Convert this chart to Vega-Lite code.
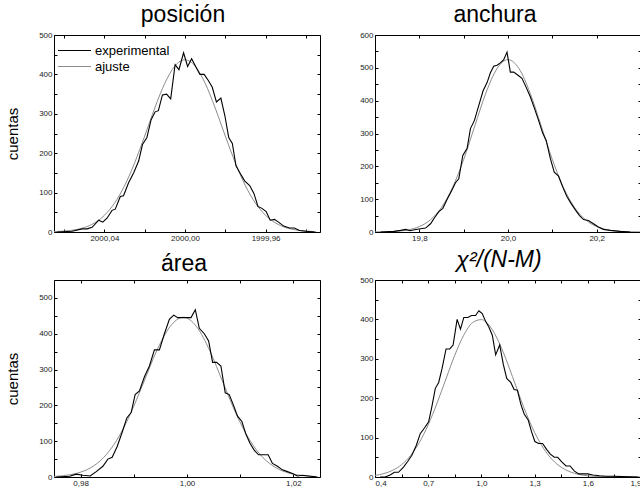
{
  "$schema": "https://vega.github.io/schema/vega-lite/v6.json",
  "background": "white",
  "padding": {"left": 5, "top": 4, "right": 0, "bottom": 0},
  "config": {
    "view": {"stroke": null},
    "font": "Liberation Sans",
    "axis": {"labelFont": "Liberation Sans", "labelFontSize": 8, "labelColor": "#222222", "tickColor": "black", "domainColor": "black", "tickSize": -3, "grid": false, "labelPadding": 5, "titleFont": "Liberation Sans", "titleFontSize": 15, "titleFontWeight": "normal", "titleColor": "black"},
    "title": {"font": "Liberation Sans", "fontSize": 23, "fontWeight": "normal", "color": "black", "offset": 4},
    "legend": {"labelFont": "Liberation Sans"}
  },
  "datasets": {
    "p1exp": [
      {"x": 2000.0634, "y": 0}, {"x": 2000.0560, "y": 2}, {"x": 2000.0510, "y": 8}, {"x": 2000.0486, "y": 8}, {"x": 2000.0461, "y": 12},
      {"x": 2000.0428, "y": 30}, {"x": 2000.0408, "y": 25}, {"x": 2000.0387, "y": 35}, {"x": 2000.0362, "y": 55}, {"x": 2000.0346, "y": 58},
      {"x": 2000.0321, "y": 90}, {"x": 2000.0305, "y": 92}, {"x": 2000.0280, "y": 125}, {"x": 2000.0255, "y": 150}, {"x": 2000.0230, "y": 180},
      {"x": 2000.0211, "y": 222}, {"x": 2000.0189, "y": 240}, {"x": 2000.0168, "y": 285}, {"x": 2000.0148, "y": 305}, {"x": 2000.0132, "y": 308},
      {"x": 2000.0112, "y": 348}, {"x": 2000.0091, "y": 350}, {"x": 2000.0071, "y": 338}, {"x": 2000.0049, "y": 425}, {"x": 2000.0030, "y": 412},
      {"x": 2000.0007, "y": 455}, {"x": 1999.9987, "y": 420}, {"x": 1999.9967, "y": 440}, {"x": 1999.9947, "y": 420}, {"x": 1999.9926, "y": 400},
      {"x": 1999.9905, "y": 400}, {"x": 1999.9885, "y": 385}, {"x": 1999.9865, "y": 368}, {"x": 1999.9844, "y": 330}, {"x": 1999.9822, "y": 340},
      {"x": 1999.9802, "y": 295}, {"x": 1999.9783, "y": 240}, {"x": 1999.9765, "y": 225}, {"x": 1999.9747, "y": 168}, {"x": 1999.9727, "y": 150},
      {"x": 1999.9704, "y": 130}, {"x": 1999.9679, "y": 118}, {"x": 1999.9658, "y": 98}, {"x": 1999.9638, "y": 65}, {"x": 1999.9618, "y": 60},
      {"x": 1999.9597, "y": 52}, {"x": 1999.9577, "y": 30}, {"x": 1999.9556, "y": 32}, {"x": 1999.9536, "y": 25}, {"x": 1999.9510, "y": 15},
      {"x": 1999.9482, "y": 10}, {"x": 1999.9457, "y": 10}, {"x": 1999.9432, "y": 4}, {"x": 1999.9399, "y": 2}, {"x": 1999.9358, "y": 0}
    ],
    "p1fit": [
      {"x": 1999.935, "y": 0.9}, {"x": 1999.940, "y": 2.3}, {"x": 1999.945, "y": 5.3}, {"x": 1999.950, "y": 11.3}, {"x": 1999.955, "y": 22.7},
      {"x": 1999.960, "y": 42.2}, {"x": 1999.965, "y": 73.0}, {"x": 1999.970, "y": 117.3}, {"x": 1999.975, "y": 175.4}, {"x": 1999.980, "y": 243.6},
      {"x": 1999.985, "y": 314.6}, {"x": 1999.990, "y": 377.6}, {"x": 1999.995, "y": 421.3}, {"x": 2000.000, "y": 437},
      {"x": 2000.005, "y": 421.3}, {"x": 2000.010, "y": 377.6}, {"x": 2000.015, "y": 314.6}, {"x": 2000.020, "y": 243.6}, {"x": 2000.025, "y": 175.4},
      {"x": 2000.030, "y": 117.3}, {"x": 2000.035, "y": 73.0}, {"x": 2000.040, "y": 42.2}, {"x": 2000.045, "y": 22.7}, {"x": 2000.050, "y": 11.3},
      {"x": 2000.055, "y": 5.3}, {"x": 2000.060, "y": 2.3}, {"x": 2000.065, "y": 0.9}
    ],
    "p2exp": [
      {"x": 19.7128, "y": 0}, {"x": 19.7428, "y": 2}, {"x": 19.7578, "y": 5}, {"x": 19.769, "y": 8}, {"x": 19.7788, "y": 4},
      {"x": 19.7893, "y": 7}, {"x": 19.8028, "y": 10}, {"x": 19.814, "y": 12}, {"x": 19.8253, "y": 25}, {"x": 19.835, "y": 45},
      {"x": 19.844, "y": 62}, {"x": 19.853, "y": 72}, {"x": 19.8628, "y": 100}, {"x": 19.8725, "y": 125}, {"x": 19.8815, "y": 150},
      {"x": 19.889, "y": 162}, {"x": 19.898, "y": 233}, {"x": 19.9078, "y": 255}, {"x": 19.9153, "y": 315}, {"x": 19.9243, "y": 340},
      {"x": 19.934, "y": 385}, {"x": 19.9438, "y": 430}, {"x": 19.9528, "y": 455}, {"x": 19.9603, "y": 485}, {"x": 19.9678, "y": 505},
      {"x": 19.9753, "y": 508}, {"x": 19.9828, "y": 515}, {"x": 19.9903, "y": 525}, {"x": 19.9978, "y": 548}, {"x": 20.0053, "y": 487},
      {"x": 20.0128, "y": 487}, {"x": 20.0218, "y": 478}, {"x": 20.0315, "y": 468}, {"x": 20.0405, "y": 442}, {"x": 20.0503, "y": 412},
      {"x": 20.0593, "y": 378}, {"x": 20.069, "y": 340}, {"x": 20.078, "y": 302}, {"x": 20.0863, "y": 278}, {"x": 20.0953, "y": 225},
      {"x": 20.1043, "y": 182}, {"x": 20.114, "y": 170}, {"x": 20.1238, "y": 136}, {"x": 20.1328, "y": 108}, {"x": 20.1418, "y": 88},
      {"x": 20.1515, "y": 68}, {"x": 20.1613, "y": 50}, {"x": 20.1703, "y": 38}, {"x": 20.1815, "y": 35}, {"x": 20.1928, "y": 25},
      {"x": 20.204, "y": 15}, {"x": 20.2153, "y": 8}, {"x": 20.2303, "y": 5}, {"x": 20.2528, "y": 2}, {"x": 20.2753, "y": 0}
    ],
    "p2fit": [
      {"x": 19.700, "y": 0.2}, {"x": 19.725, "y": 0.8}, {"x": 19.750, "y": 2.3}, {"x": 19.775, "y": 6.6}, {"x": 19.800, "y": 16.5},
      {"x": 19.825, "y": 37.1}, {"x": 19.850, "y": 74.9}, {"x": 19.875, "y": 135.8}, {"x": 19.900, "y": 220.9}, {"x": 19.925, "y": 322.6},
      {"x": 19.950, "y": 422.8}, {"x": 19.975, "y": 497.3}, {"x": 20.000, "y": 525},
      {"x": 20.025, "y": 497.3}, {"x": 20.050, "y": 422.8}, {"x": 20.075, "y": 322.6}, {"x": 20.100, "y": 220.9}, {"x": 20.125, "y": 135.8},
      {"x": 20.150, "y": 74.9}, {"x": 20.175, "y": 37.1}, {"x": 20.200, "y": 16.5}, {"x": 20.225, "y": 6.6}, {"x": 20.250, "y": 2.3},
      {"x": 20.275, "y": 0.8}, {"x": 20.300, "y": 0.2}
    ],
    "p3exp": [
      {"x": 0.975438, "y": 0}, {"x": 0.977938, "y": 2}, {"x": 0.979188, "y": 8}, {"x": 0.980438, "y": 5}, {"x": 0.981813, "y": 3},
      {"x": 0.982938, "y": 15}, {"x": 0.984188, "y": 30}, {"x": 0.985125, "y": 50}, {"x": 0.985938, "y": 55}, {"x": 0.986875, "y": 85},
      {"x": 0.987813, "y": 125}, {"x": 0.988688, "y": 165}, {"x": 0.9895, "y": 180}, {"x": 0.99025, "y": 230}, {"x": 0.991063, "y": 240},
      {"x": 0.992, "y": 280}, {"x": 0.992938, "y": 310}, {"x": 0.993875, "y": 355}, {"x": 0.994813, "y": 355}, {"x": 0.99575, "y": 400},
      {"x": 0.996688, "y": 440}, {"x": 0.9975, "y": 452}, {"x": 0.99825, "y": 445}, {"x": 0.999188, "y": 445}, {"x": 1.000125, "y": 445},
      {"x": 1.00075, "y": 445}, {"x": 1.001563, "y": 467}, {"x": 1.002313, "y": 415}, {"x": 1.00325, "y": 400}, {"x": 1.004063, "y": 380},
      {"x": 1.004813, "y": 320}, {"x": 1.005563, "y": 320}, {"x": 1.006375, "y": 310}, {"x": 1.007188, "y": 235}, {"x": 1.007938, "y": 230},
      {"x": 1.00875, "y": 200}, {"x": 1.0095, "y": 170}, {"x": 1.010313, "y": 155}, {"x": 1.011063, "y": 120}, {"x": 1.011813, "y": 95},
      {"x": 1.012625, "y": 75}, {"x": 1.013438, "y": 62}, {"x": 1.014375, "y": 62}, {"x": 1.01525, "y": 62}, {"x": 1.016063, "y": 38},
      {"x": 1.017, "y": 30}, {"x": 1.017938, "y": 20}, {"x": 1.018875, "y": 15}, {"x": 1.019813, "y": 10}, {"x": 1.02075, "y": 3},
      {"x": 1.021688, "y": 5}, {"x": 1.02325, "y": 2}, {"x": 1.0245, "y": 0}
    ],
    "p3fit": [
      {"x": 0.9743, "y": 1.3}, {"x": 0.9768, "y": 3.8}, {"x": 0.9793, "y": 10.4}, {"x": 0.9818, "y": 25.1}, {"x": 0.9843, "y": 53.9},
      {"x": 0.9868, "y": 102.7}, {"x": 0.9893, "y": 174.1}, {"x": 0.9918, "y": 262.5}, {"x": 0.9943, "y": 352.0}, {"x": 0.9968, "y": 419.7},
      {"x": 0.9993, "y": 446},
      {"x": 1.0018, "y": 419.7}, {"x": 1.0043, "y": 352.0}, {"x": 1.0068, "y": 262.5}, {"x": 1.0093, "y": 174.1}, {"x": 1.0118, "y": 102.7},
      {"x": 1.0143, "y": 53.9}, {"x": 1.0168, "y": 25.1}, {"x": 1.0193, "y": 10.4}, {"x": 1.0218, "y": 3.8}, {"x": 1.0243, "y": 1.3}
    ],
    "p4exp": [
      {"x": 0.4284, "y": 0}, {"x": 0.4567, "y": 0}, {"x": 0.4851, "y": 5}, {"x": 0.5096, "y": 12}, {"x": 0.5323, "y": 12},
      {"x": 0.5607, "y": 25}, {"x": 0.5852, "y": 40}, {"x": 0.6079, "y": 55}, {"x": 0.6325, "y": 80}, {"x": 0.6552, "y": 110},
      {"x": 0.6797, "y": 125}, {"x": 0.7024, "y": 140}, {"x": 0.7213, "y": 180}, {"x": 0.7402, "y": 225}, {"x": 0.7591, "y": 240},
      {"x": 0.778, "y": 275}, {"x": 0.8007, "y": 325}, {"x": 0.8215, "y": 325}, {"x": 0.8404, "y": 335}, {"x": 0.8631, "y": 400},
      {"x": 0.882, "y": 375}, {"x": 0.9009, "y": 405}, {"x": 0.9235, "y": 405}, {"x": 0.9443, "y": 410}, {"x": 0.967, "y": 410},
      {"x": 0.9859, "y": 422}, {"x": 1.0048, "y": 415}, {"x": 1.0237, "y": 395}, {"x": 1.0426, "y": 380}, {"x": 1.0615, "y": 360},
      {"x": 1.0804, "y": 310}, {"x": 1.1031, "y": 335}, {"x": 1.1239, "y": 285}, {"x": 1.1428, "y": 250}, {"x": 1.1655, "y": 240},
      {"x": 1.1844, "y": 222}, {"x": 1.2033, "y": 220}, {"x": 1.2222, "y": 185}, {"x": 1.2411, "y": 160}, {"x": 1.2637, "y": 145},
      {"x": 1.2826, "y": 115}, {"x": 1.3015, "y": 90}, {"x": 1.3223, "y": 85}, {"x": 1.345, "y": 85}, {"x": 1.3677, "y": 70},
      {"x": 1.3885, "y": 58}, {"x": 1.4112, "y": 50}, {"x": 1.4301, "y": 50}, {"x": 1.4546, "y": 38}, {"x": 1.4773, "y": 28},
      {"x": 1.5, "y": 28}, {"x": 1.5246, "y": 15}, {"x": 1.5491, "y": 8}, {"x": 1.5718, "y": 8}, {"x": 1.6002, "y": 8},
      {"x": 1.6285, "y": 5}, {"x": 1.6663, "y": 3}, {"x": 1.7041, "y": 2}, {"x": 1.7419, "y": 2}, {"x": 1.7986, "y": 1},
      {"x": 1.8837, "y": 0}
    ],
    "p4fit": [
      {"x": 0.40, "y": 4.1}, {"x": 0.45, "y": 8.7}, {"x": 0.50, "y": 17.0}, {"x": 0.55, "y": 31.4}, {"x": 0.60, "y": 54.1},
      {"x": 0.65, "y": 87.5}, {"x": 0.70, "y": 132.4}, {"x": 0.75, "y": 187.6}, {"x": 0.80, "y": 248.8}, {"x": 0.85, "y": 309.1},
      {"x": 0.90, "y": 359.6}, {"x": 0.95, "y": 391.7}, {"x": 1.00, "y": 399.5}, {"x": 1.05, "y": 381.5}, {"x": 1.10, "y": 341.2},
      {"x": 1.15, "y": 285.7}, {"x": 1.20, "y": 224.0}, {"x": 1.25, "y": 164.4}, {"x": 1.30, "y": 113.1}, {"x": 1.35, "y": 72.8},
      {"x": 1.40, "y": 43.9}, {"x": 1.45, "y": 24.8}, {"x": 1.50, "y": 13.1}, {"x": 1.55, "y": 6.5}, {"x": 1.60, "y": 3.0},
      {"x": 1.65, "y": 1.3}, {"x": 1.70, "y": 0.5}, {"x": 1.80, "y": 0.05}, {"x": 1.90, "y": 0}
    ]
  },
  "columns": 2,
  "spacing": {"row": 48, "column": 55},
  "bounds": "flush",
  "resolve": {"scale": {"color": "independent"}},
  "concat": [
    {
      "width": 266, "height": 197,
      "title": {"text": "posición", "dx": -4},
      "resolve": {"axis": {"x": "independent", "y": "independent"}},
      "layer": [
        {
          "data": {"name": "p1fit"},
          "mark": {"type": "line", "strokeWidth": 1, "interpolate": "monotone", "clip": true},
          "encoding": {
            "x": {"field": "x", "type": "quantitative", "scale": {"domain": [1999.933, 2000.065], "reverse": true, "nice": false, "zero": false},
                  "axis": {"orient": "bottom", "title": null, "values": [1999.94, 1999.96, 1999.98, 2000.0, 2000.02, 2000.04, 2000.06],
                           "labelExpr": "round(datum.value*100) % 4 == 0 ? replace(format(datum.value, '.2f'), '.', ',') : ''"}},
            "y": {"field": "y", "type": "quantitative", "scale": {"domain": [0, 500], "nice": false},
                  "axis": {"orient": "left", "title": "cuentas", "titlePadding": 18, "values": [0, 50, 100, 150, 200, 250, 300, 350, 400, 450, 500],
                           "labelExpr": "datum.value % 100 == 0 ? format(datum.value, 'd') : ''"}},
            "color": {"datum": "ajuste", "type": "nominal",
                      "scale": {"domain": ["experimental", "ajuste"], "range": ["#000000", "#8c8c8c"]},
                      "legend": {"orient": "none", "legendX": 14, "legendY": 9, "title": null, "symbolType": "M-3,0H3", "symbolSize": 121,
                                 "symbolStrokeWidth": 1.2, "labelFontSize": 13, "labelColor": "black", "labelOffset": 14, "rowPadding": 2, "padding": 0}}
          }
        },
        {
          "data": {"name": "p1exp"},
          "mark": {"type": "line", "strokeWidth": 1.1, "clip": true},
          "encoding": {
            "x": {"field": "x", "type": "quantitative",
                  "axis": {"orient": "top", "title": null, "labels": false, "values": [1999.94, 1999.96, 1999.98, 2000.0, 2000.02, 2000.04, 2000.06]}},
            "y": {"field": "y", "type": "quantitative",
                  "axis": {"orient": "right", "title": null, "labels": false, "values": [0, 50, 100, 150, 200, 250, 300, 350, 400, 450, 500]}},
            "color": {"datum": "experimental", "type": "nominal"}
          }
        }
      ]
    },
    {
      "width": 266, "height": 197,
      "title": {"text": "anchura", "dx": -13},
      "resolve": {"axis": {"x": "independent", "y": "independent"}},
      "layer": [
        {
          "data": {"name": "p2fit"},
          "mark": {"type": "line", "strokeWidth": 1, "color": "#8c8c8c", "interpolate": "monotone", "clip": true},
          "encoding": {
            "x": {"field": "x", "type": "quantitative", "scale": {"domain": [19.7, 20.3], "nice": false, "zero": false},
                  "axis": {"orient": "bottom", "title": null, "values": [19.7, 19.8, 19.9, 20.0, 20.1, 20.2, 20.3],
                           "labelExpr": "round(datum.value*10) % 2 == 0 && datum.value > 19.75 && datum.value < 20.25 ? replace(format(datum.value, '.1f'), '.', ',') : ''"}},
            "y": {"field": "y", "type": "quantitative", "scale": {"domain": [0, 600], "nice": false},
                  "axis": {"orient": "left", "title": null, "values": [0, 50, 100, 150, 200, 250, 300, 350, 400, 450, 500, 550, 600],
                           "labelExpr": "datum.value % 100 == 0 ? format(datum.value, 'd') : ''"}}
          }
        },
        {
          "data": {"name": "p2exp"},
          "mark": {"type": "line", "strokeWidth": 1.1, "color": "#000000", "clip": true},
          "encoding": {
            "x": {"field": "x", "type": "quantitative",
                  "axis": {"orient": "top", "title": null, "labels": false, "values": [19.7, 19.8, 19.9, 20.0, 20.1, 20.2, 20.3]}},
            "y": {"field": "y", "type": "quantitative",
                  "axis": {"orient": "right", "title": null, "labels": false, "values": [0, 50, 100, 150, 200, 250, 300, 350, 400, 450, 500, 550, 600]}}
          }
        }
      ]
    },
    {
      "width": 266, "height": 197,
      "title": {"text": "área", "dx": -3},
      "resolve": {"axis": {"x": "independent", "y": "independent"}},
      "layer": [
        {
          "data": {"name": "p3fit"},
          "mark": {"type": "line", "strokeWidth": 1, "color": "#8c8c8c", "interpolate": "monotone", "clip": true},
          "encoding": {
            "x": {"field": "x", "type": "quantitative", "scale": {"domain": [0.975, 1.025], "nice": false, "zero": false},
                  "axis": {"orient": "bottom", "title": null, "values": [0.98, 0.99, 1.0, 1.01, 1.02],
                           "labelExpr": "round(datum.value*100) % 2 == 0 ? replace(format(datum.value, '.2f'), '.', ',') : ''"}},
            "y": {"field": "y", "type": "quantitative", "scale": {"domain": [0, 550], "nice": false},
                  "axis": {"orient": "left", "title": "cuentas", "titlePadding": 18, "values": [0, 50, 100, 150, 200, 250, 300, 350, 400, 450, 500, 550],
                           "labelExpr": "datum.value % 100 == 0 ? format(datum.value, 'd') : ''"}}
          }
        },
        {
          "data": {"name": "p3exp"},
          "mark": {"type": "line", "strokeWidth": 1.1, "color": "#000000", "clip": true},
          "encoding": {
            "x": {"field": "x", "type": "quantitative",
                  "axis": {"orient": "top", "title": null, "labels": false, "values": [0.98, 0.99, 1.0, 1.01, 1.02]}},
            "y": {"field": "y", "type": "quantitative",
                  "axis": {"orient": "right", "title": null, "labels": false, "values": [0, 50, 100, 150, 200, 250, 300, 350, 400, 450, 500, 550]}}
          }
        }
      ]
    },
    {
      "width": 266, "height": 197,
      "title": {"text": "χ²/(N-M)", "dx": -9, "fontStyle": "italic"},
      "resolve": {"axis": {"x": "independent", "y": "independent"}},
      "layer": [
        {
          "data": {"name": "p4fit"},
          "mark": {"type": "line", "strokeWidth": 1, "color": "#8c8c8c", "interpolate": "monotone", "clip": true},
          "encoding": {
            "x": {"field": "x", "type": "quantitative", "scale": {"domain": [0.4, 1.9], "nice": false, "zero": false},
                  "axis": {"orient": "bottom", "title": null, "values": [0.4, 0.55, 0.7, 0.85, 1.0, 1.15, 1.3, 1.45, 1.6, 1.75, 1.9],
                           "labelExpr": "(round(datum.value*100) - 40) % 30 == 0 ? replace(format(datum.value, '.1f'), '.', ',') : ''"}},
            "y": {"field": "y", "type": "quantitative", "scale": {"domain": [0, 500], "nice": false},
                  "axis": {"orient": "left", "title": null, "values": [0, 50, 100, 150, 200, 250, 300, 350, 400, 450, 500],
                           "labelExpr": "datum.value % 100 == 0 ? format(datum.value, 'd') : ''"}}
          }
        },
        {
          "data": {"name": "p4exp"},
          "mark": {"type": "line", "strokeWidth": 1.1, "color": "#000000", "clip": true},
          "encoding": {
            "x": {"field": "x", "type": "quantitative",
                  "axis": {"orient": "top", "title": null, "labels": false, "values": [0.4, 0.55, 0.7, 0.85, 1.0, 1.15, 1.3, 1.45, 1.6, 1.75, 1.9]}},
            "y": {"field": "y", "type": "quantitative",
                  "axis": {"orient": "right", "title": null, "labels": false, "values": [0, 50, 100, 150, 200, 250, 300, 350, 400, 450, 500]}}
          }
        }
      ]
    }
  ]
}
